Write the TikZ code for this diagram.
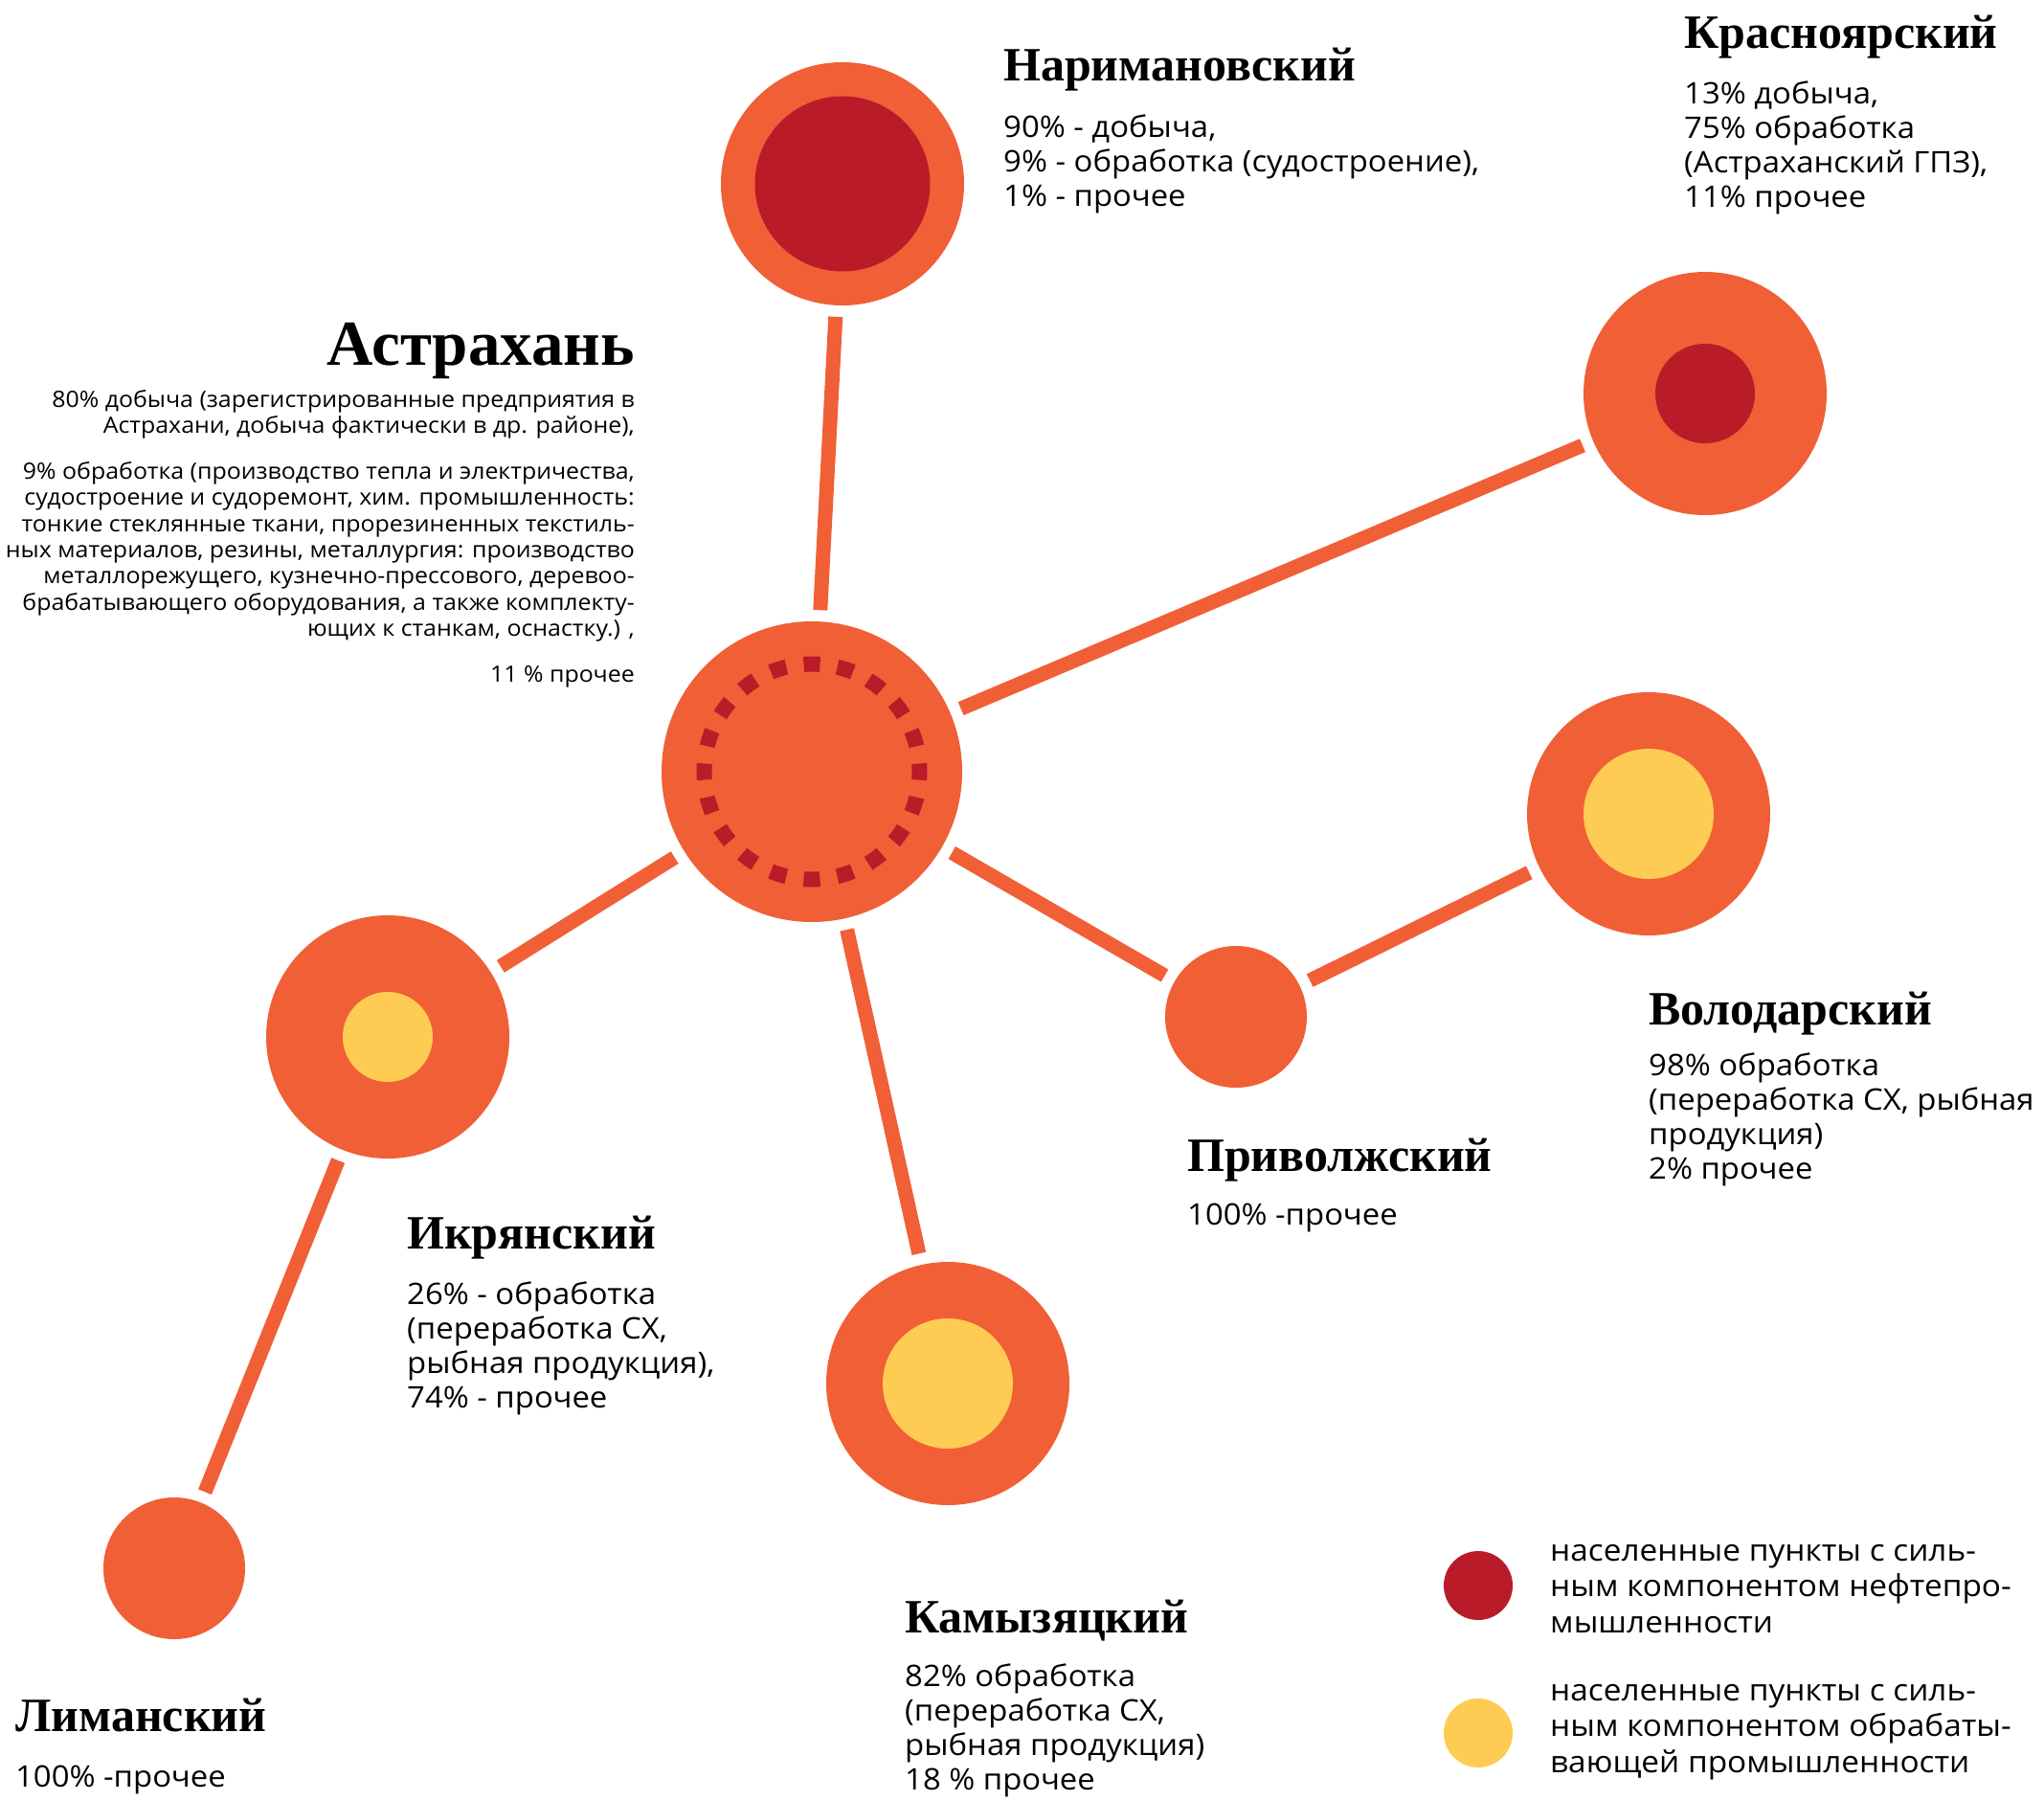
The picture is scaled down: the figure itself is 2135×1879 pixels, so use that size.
\documentclass[tikz,border=0pt]{standalone}
\usepackage{fontspec}
\setmainfont{Open Sans}[FakeStretch=1.06]
\newfontfamily\headfont{Liberation Serif}
\definecolor{rayon}{HTML}{F15F36}
\definecolor{neft}{HTML}{B91B28}
\definecolor{obrab}{HTML}{FECC52}
\tikzset{
  hubdot/.style={circle, fill=rayon, minimum size=314pt, inner sep=0pt, outer sep=12pt},
  bigdot/.style={circle, fill=rayon, minimum size=254pt, inner sep=0pt, outer sep=12pt},
  smalldot/.style={circle, fill=rayon, minimum size=148pt, inner sep=0pt, outer sep=12pt},
  core/.style={circle, inner sep=0pt},
  link/.style={rayon, line width=15pt},
  title/.style={anchor=base west, inner sep=0pt, font=\headfont\bfseries\fontsize{50}{56}\selectfont},
  info/.style={anchor=base west, inner sep=0pt, align=left, font=\fontsize{31}{36}\selectfont},
}

\begin{document}
\begin{tikzpicture}[x=1pt, y=-1pt]
			%%%%% START %%%%%
			\useasboundingbox (0,0) rectangle (2135,1879);
			
			\node[hubdot] (astr) at (848,806) {};
			\draw[neft, line width=16pt, dash pattern=on 17pt off 18.34pt, dash phase=8.5pt] (astr.center) circle (112.5pt);
			
			\node[bigdot] (narim) at (880,192) {};
			\node[core, fill=neft, minimum size=183pt] (narim-core) at (narim.center) {};
			
			\node[bigdot] (krasn) at (1781,411) {};
			\node[core, fill=neft, minimum size=104pt] (krasn-core) at (krasn.center) {};
			
			\node[bigdot] (volod) at (1722,850) {};
			\node[core, fill=obrab, minimum size=136pt] (volod-core) at (volod.center) {};
			
			\node[smalldot] (privol) at (1291,1062) {};
			
			\node[bigdot] (ikr) at (405,1083) {};
			\node[core, fill=obrab, minimum size=94pt] (ikr-core) at (ikr.center) {};
			
			\node[bigdot] (kamyz) at (990,1445) {};
			\node[core, fill=obrab, minimum size=136pt] (kamyz-core) at (kamyz.center) {};
			
			\node[smalldot] (liman) at (182,1638) {};
			
			\draw[link] (astr) -- (narim);
			\draw[link] (astr) -- (krasn);
			\draw[link] (astr) -- (privol);
			\draw[link] (privol) -- (volod);
			\draw[link] (astr) -- (kamyz);
			\draw[link] (astr) -- (ikr);
			\draw[link] (ikr) -- (liman);
			
			% texts: base = last line
			\node[title, anchor=base east, font=\headfont\bfseries\fontsize{67}{72}\selectfont] (astr-title) at (663,381) {Астрахань};
			\node[info, anchor=base east, align=right, font=\fontsize{23.5}{27.4}\selectfont] (astr-text) at (663,712) {80\% добыча (зарегистрированные предприятия в\\ Астрахани, добыча фактически в др. районе),\\[20pt] 9\% обработка (производство тепла и электричества,\\ судостроение и судоремонт, хим. промышленность:\\ тонкие стеклянные ткани, прорезиненных текстиль-\\ ных материалов, резины, металлургия: производство\\ металлорежущего, кузнечно-прессового, деревоо-\\ брабатывающего оборудования, а также комплекту-\\ ющих к станкам, оснастку.) ,\\[20pt] 11 \% прочее};
			
			\node[title] (narim-title) at (1048,84) {Наримановский};
			\node[info] (narim-text) at (1048,215) {90\% - добыча,\\ 9\% - обработка (судостроение),\\ 1\% - прочее};
			
			\node[title] (krasn-title) at (1759,50) {Красноярский};
			\node[info] (krasn-text) at (1759,216) {13\% добыча,\\ 75\% обработка\\ (Астраханский ГПЗ),\\ 11\% прочее};
			
			\node[title] (volod-title) at (1722,1070) {Володарский};
			\node[info] (volod-text) at (1722,1231) {98\% обработка\\ (переработка СХ, рыбная\\ продукция)\\ 2\% прочее};
			
			\node[title] (privol-title) at (1240,1223) {Приволжский};
			\node[info] (privol-text) at (1240,1279) {100\% -прочее};
			
			\node[title] (ikr-title) at (425,1304) {Икрянский};
			\node[info] (ikr-text) at (425,1470) {26\% - обработка\\ (переработка СХ,\\ рыбная продукция),\\ 74\% - прочее};
			
			\node[title] (kamyz-title) at (945,1705) {Камызяцкий};
			\node[info] (kamyz-text) at (945,1869) {82\% обработка\\ (переработка СХ,\\ рыбная продукция)\\ 18 \% прочее};
			
			\node[title] (liman-title) at (16,1808) {Лиманский};
			\node[info] (liman-text) at (16,1866) {100\% -прочее};
			
			%% legend
			\node[core, fill=neft, minimum size=72pt] (leg-neft) at (1544,1656) {};
			\node[info, font=\fontsize{31.5}{37.4}\selectfont] (leg-neft-text) at (1619,1705) {населенные пункты с силь-\\ ным компонентом нефтепро-\\ мышленности};
			\node[core, fill=obrab, minimum size=72pt] (leg-obrab) at (1544,1810) {};
			\node[info, font=\fontsize{31.5}{37.4}\selectfont] (leg-obrab-text) at (1619,1851) {населенные пункты с силь-\\ ным компонентом обрабаты-\\ вающей промышленности};
			
			%%%%% END %%%%%
\end{tikzpicture}
\end{document}
